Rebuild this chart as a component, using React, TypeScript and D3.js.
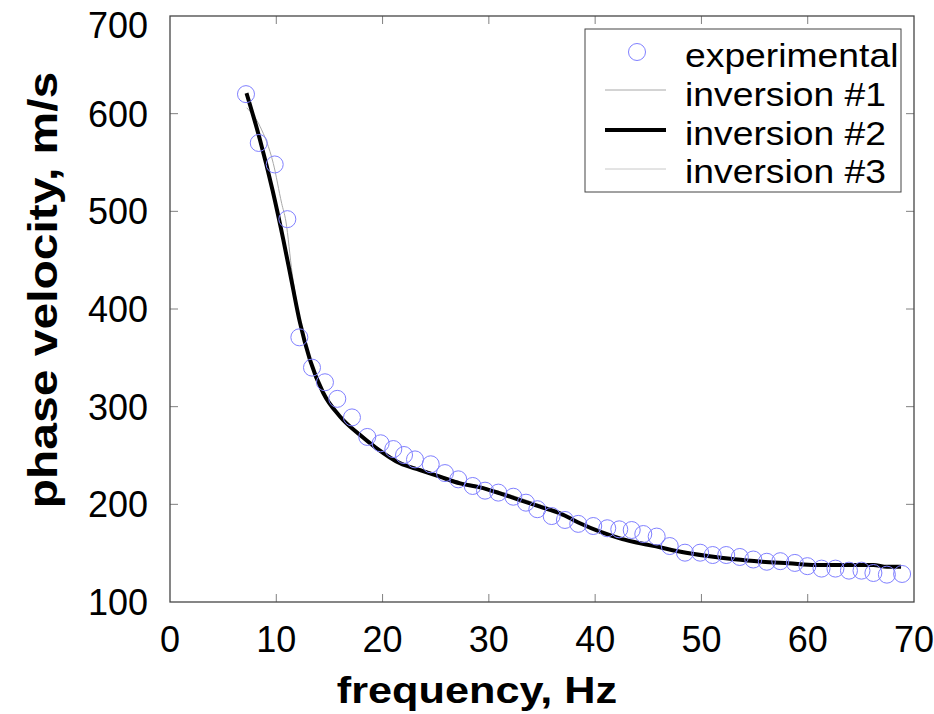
import React from "react";
import * as d3 from "d3";

// ---- data ----
const expFreq = [7.15, 8.35, 9.85, 11.04, 12.17, 13.36, 14.58, 15.74, 17.12, 18.56, 19.82, 21.01, 22.02, 23.05, 24.53, 25.87, 27.12, 28.48, 29.64, 30.89, 32.3, 33.49, 34.56, 35.91, 37.16, 38.41, 39.82, 41.14, 42.27, 43.44, 44.53, 45.79, 47.02, 48.45, 49.88, 51.06, 52.33, 53.61, 54.88, 56.15, 57.42, 58.79, 59.97, 61.3, 62.61, 63.88, 65.06, 66.18, 67.45, 68.88];
const expVel = [620, 570, 548, 492, 371, 340, 325, 308, 289, 269, 262.5, 256.6, 250.5, 246, 241, 232, 225.6, 218.8, 214, 212, 207.8, 201.7, 195, 188, 184, 180, 177.8, 175.5, 174.4, 173.7, 169.6, 167, 157.3, 150.5, 150.5, 148.1, 148.1, 146.1, 143.5, 141.2, 141.8, 140, 136.7, 134.2, 134.2, 132.1, 132.1, 129.7, 128, 128.7];

const inv2Freq = [7.2, 8.47, 9.66, 10.66, 11.45, 12.23, 13.17, 14.42, 15.99, 17.88, 19.45, 21.64, 23.52, 25.4, 27.28, 29.16, 31.04, 32.93, 34.81, 36.69, 38.57, 40.45, 42.33, 43.59, 46.1, 48.04, 50.58, 53.13, 55.67, 58.22, 60.77, 63.31, 66.17, 67.45, 68.78];
const inv2Vel = [621, 573, 521, 471, 428, 386, 348, 314, 290, 271, 257.4, 242, 235.1, 228.3, 221.5, 217.4, 211.3, 204.4, 197.6, 190.8, 180.6, 172, 165.2, 161.7, 156, 151.5, 147.1, 143.7, 141.3, 139.6, 137.9, 137.9, 137.9, 136.1, 136.1];

const inv1Freq = [7.22, 8.47, 9.72, 10.51, 10.9, 11.5, 12.23, 13.17, 14.42, 15.99, 17.88, 19.45, 21.64, 23.52, 25.4, 27.28, 29.16, 31.04, 32.93, 34.81, 36.69, 38.57, 40.45, 42.33, 43.59, 46.1, 48.04, 50.58, 53.13, 55.67, 58.22, 60.77, 63.31, 66.17, 67.45, 68.78];
const inv1Vel = [606, 587, 549, 508, 490, 436, 388, 349, 315, 291, 273, 259, 244, 236.5, 229.5, 223, 218.5, 213, 206.5, 199.5, 192, 181.5, 172.5, 165.5, 162, 156.2, 151.7, 147.3, 143.9, 141.5, 139.8, 138.1, 138, 138, 136.3, 136.2];

const inv3Freq = [7.2, 8.47, 9.66, 10.66, 11.45, 12.23, 13.17, 14.42, 15.99, 17.88, 19.45, 21.64, 23.52, 25.4, 27.28, 29.16, 31.04, 32.93, 34.81, 36.69, 38.57, 40.45, 42.33, 43.59, 46.1, 48.04, 50.58, 53.13, 55.67, 58.22, 60.77, 63.31, 66.17, 67.45, 68.78];
const inv3Vel = [620, 572, 522, 472, 429, 387, 349, 315, 291, 272, 258.5, 243, 236, 229, 222.5, 218.5, 212.5, 205.8, 199, 192, 181.5, 172.8, 165.6, 162, 156.3, 151.6, 147.2, 143.8, 141.4, 139.7, 138, 138, 138, 136.2, 136.1];

const xTicks = [0, 10, 20, 30, 40, 50, 60, 70];
const yTicks = [100, 200, 300, 400, 500, 600, 700];
const legendLabels = ["experimental", "inversion #1", "inversion #2", "inversion #3"];
const xTitle = "frequency, Hz";
const yTitle = "phase velocity, m/s";

const W = 934, H = 714;
const M = { left: 170, right: 914, top: 16, bottom: 602 };
const FONT = "'Liberation Sans', Arial, Helvetica, sans-serif";

function SText(props: { x: number; y: number; size: number; anchor?: string; bold?: boolean; children: React.ReactNode; sx: number }) {
  const { x, y, size, anchor = "start", bold, children, sx } = props;
  return (
    <g transform={`translate(${x},${y}) scale(${sx},1)`}>
      <text x={0} y={0} fontFamily={FONT} fontSize={size} fontWeight={bold ? "bold" : "normal"} textAnchor={anchor} fill="#000">
        {children}
      </text>
    </g>
  );
}

export default function App() {
  const x = d3.scaleLinear().domain([0, 70]).range([M.left, M.right]);
  const y = d3.scaleLinear().domain([100, 700]).range([M.bottom, M.top]);
  const line = d3.line<[number, number]>().x((d) => x(d[0])).y((d) => y(d[1])).curve(d3.curveMonotoneX);
  const pts = (f: number[], v: number[]) => f.map((ff, i) => [ff, v[i]] as [number, number]);
  const tick = 8;
  const tickColor = "#808080";

  return (
    <svg width={W} height={H} style={{ position: "absolute", left: 0, top: 0, background: "#fff" }}>
      <rect x={0} y={0} width={W} height={H} fill="#fff" />
      {/* ticks */}
      {xTicks.slice(1, -1).map((t) => (
        <g key={"xt" + t}>
          <line x1={x(t)} x2={x(t)} y1={M.bottom} y2={M.bottom - tick} stroke={tickColor} strokeWidth={1} />
          <line x1={x(t)} x2={x(t)} y1={M.top} y2={M.top + tick} stroke={tickColor} strokeWidth={1} />
        </g>
      ))}
      {yTicks.slice(1, -1).map((t) => (
        <g key={"yt" + t}>
          <line x1={M.left} x2={M.left + tick} y1={y(t)} y2={y(t)} stroke={tickColor} strokeWidth={1} />
          <line x1={M.right} x2={M.right - tick} y1={y(t)} y2={y(t)} stroke={tickColor} strokeWidth={1} />
        </g>
      ))}
      {/* lines */}
      <path d={line(pts(inv1Freq, inv1Vel)) || ""} fill="none" stroke="#a8a8a8" strokeWidth={1} />
      <path d={line(pts(inv3Freq, inv3Vel)) || ""} fill="none" stroke="#c8c8c8" strokeWidth={1} />
      <path d={line(pts(inv2Freq, inv2Vel)) || ""} fill="none" stroke="#000" strokeWidth={4} strokeLinejoin="round" />
      {/* markers */}
      {expFreq.map((f, i) => (
        <circle key={"c" + i} cx={x(f)} cy={y(expVel[i])} r={8.5} fill="none" stroke="#8080ff" strokeWidth={1} />
      ))}
      {/* frame */}
      <rect x={M.left} y={M.top} width={M.right - M.left} height={M.bottom - M.top} fill="none" stroke="#454545" strokeWidth={1.3} />
      {/* tick labels */}
      {xTicks.map((t) => (
        <SText key={"xl" + t} x={x(t)} y={652} size={36} sx={1} anchor="middle">{t}</SText>
      ))}
      {yTicks.map((t) => (
        <SText key={"yl" + t} x={148} y={Math.max(y(t), 25) + 13} size={36} sx={1} anchor="end">{t}</SText>
      ))}
      {/* titles */}
      <SText x={477} y={703} size={37} sx={1.17} anchor="middle" bold>{xTitle}</SText>
      <g transform={`translate(57,290) rotate(-90) scale(1.2,1)`}>
        <text x={0} y={0} fontFamily={FONT} fontSize={40} fontWeight="bold" textAnchor="middle">{yTitle}</text>
      </g>
      {/* legend */}
      <rect x={585} y={29} width={316} height={163} fill="#fff" stroke="#454545" strokeWidth={1} />
      <circle cx={637} cy={52} r={8.5} fill="none" stroke="#8080ff" strokeWidth={1} />
      <line x1={605} x2={666} y1={90} y2={90} stroke="#a8a8a8" strokeWidth={1} />
      <line x1={605} x2={666} y1={130} y2={130} stroke="#000" strokeWidth={4} />
      <line x1={605} x2={666} y1={169} y2={169} stroke="#c8c8c8" strokeWidth={1} />
      {legendLabels.map((l, i) => (
        <SText key={"lg" + i} x={685} y={[67, 106, 145, 183][i]} size={33} sx={1.13}>{l}</SText>
      ))}
    </svg>
  );
}
